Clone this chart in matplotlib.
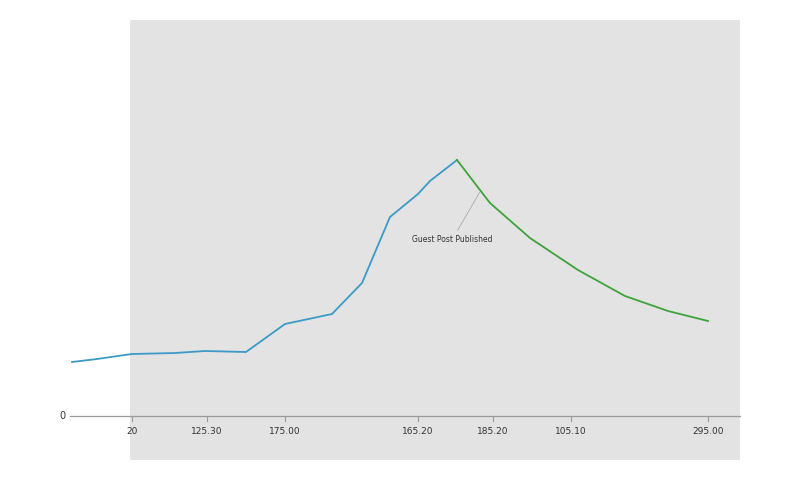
import matplotlib.pyplot as plt
from matplotlib.patches import Rectangle

# before the guest post
days_before = [18, 24.25, 33, 43.75, 51.25, 61.5, 71.25, 83, 90.5, 97.5, 104.5, 107.5, 114.25]
visits_before = [27, 28.5, 31, 31.5, 32.5, 32, 46, 51, 66.5, 99.5, 111, 117.5, 128]
# after the guest post
days_after = [114.25, 122.5, 132.5, 144.5, 156.25, 167, 177]
visits_after = [128, 106.5, 89, 73, 60, 52.5, 47.5]

tick_pos = [33, 51.75, 71.25, 104.5, 123.25, 142.75, 177]
tick_labels = ["20", "125.30", "175.00", "165.20", "185.20", "105.10", "295.00"]

fig = plt.figure(figsize=(8, 4.8), dpi=100)
ax = fig.add_axes([0, 0, 1, 1])
ax.set_xlim(0, 200)
ax.set_ylim(-32, 208)
ax.axis("off")

# gray plotting area
ax.add_patch(Rectangle((32.5, -22), 152.5, 220, facecolor="#e3e3e3", edgecolor="none", zorder=0))

# baseline
ax.plot([17.5, 185], [0, 0], color="#9a9a9a", lw=0.9, zorder=1)
ax.text(16.5, 0, "0", fontsize=7, ha="right", va="center", color="#333333")
for p, lab in zip(tick_pos, tick_labels):
    ax.plot([p, p], [0, -2.5], color="#9a9a9a", lw=0.8)
    ax.text(p, -8, lab, fontsize=6.5, ha="center", va="center", color="#333333")

ax.plot(days_before, visits_before, color="#3b9ac8", lw=1.3, zorder=3)
ax.plot(days_after, visits_after, color="#3ea33a", lw=1.3, zorder=3)

# annotation
ax.annotate("Guest Post Published", xy=(120.25, 113), xytext=(113, 88),
            fontsize=5.5, ha="center", va="center", color="#333333",
            arrowprops=dict(arrowstyle="-", color="#aaaaaa", lw=0.6))

fig.savefig("out.png", dpi=100)
